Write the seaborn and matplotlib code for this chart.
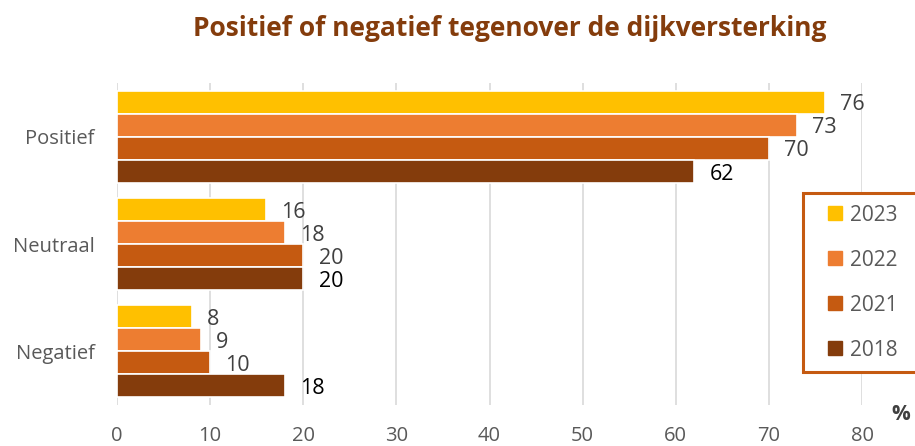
import pandas as pd
import matplotlib.pyplot as plt
from matplotlib.lines import Line2D
import seaborn as sns

# data
categories = ["Positief", "Neutraal", "Negatief"]
years = ["2023", "2022", "2021", "2018"]
values_2023 = [76, 16, 8]
values_2022 = [73, 18, 9]
values_2021 = [70, 20, 10]
values_2018 = [62, 20, 18]
x_ticks = [0, 10, 20, 30, 40, 50, 60, 70, 80]

colors = ["#FFC000", "#ED7D31", "#C55A11", "#843C0C"]
label_colors = ["#404040", "#404040", "#404040", "#000000"]

rows = []
for year, vals in zip(years, [values_2023, values_2022, values_2021, values_2018]):
    for cat, v in zip(categories, vals):
        rows.append({"categorie": cat, "jaar": year, "pct": v})
df = pd.DataFrame(rows)

sns.set_style("white")
plt.rcParams["font.family"] = ["Open Sans", "DejaVu Sans"]

fig = plt.figure(figsize=(9.15, 4.46), dpi=100)
ax = fig.add_axes([117 / 915, 1 - 405 / 446, (862 - 117) / 915, (405 - 83) / 446])

sns.barplot(data=df, y="categorie", x="pct", hue="jaar", order=categories,
            hue_order=years, palette=colors, saturation=1, orient="h",
            width=0.86, edgecolor="white", linewidth=1.2, gap=0, legend=False,
            ax=ax)

for cont, lc in zip(ax.containers, label_colors):
    texts = ax.bar_label(cont, labels=[f"{v:.0f}" for v in cont.datavalues],
                         padding=11, fontsize=15.5, color=lc)
    for t in texts:
        # nudge the value labels a little below the bar centre
        t.xyann = (t.xyann[0], -2)

ax.set_xlim(0, 80)
ax.set_xticks(x_ticks)
ax.set_xticklabels([str(t) for t in x_ticks], fontsize=14.5, color="#595959")
ax.tick_params(axis="x", length=0, pad=15)
ax.tick_params(axis="y", length=0, pad=16, labelsize=14.5, labelcolor="#595959")
ax.set_xlabel("")
ax.set_ylabel("")
ax.grid(axis="x", color="#D9D9D9", linewidth=1.2)
ax.set_axisbelow(True)
for s in ax.spines.values():
    s.set_visible(False)

fig.text(901 / 915, 1 - 414 / 446, "%", ha="center", va="center",
         fontsize=15, fontweight="bold", color="#404040")

fig.suptitle("Positief of negatief tegenover de dijkversterking", x=510 / 915,
             y=1 - 28 / 446, va="center", fontsize=19, fontweight="bold",
             color="#843C0C")

handles = [Line2D([], [], marker="s", linestyle="", markersize=9.5, color=c)
           for c in colors]
leg = ax.legend(handles, years, loc="lower left", mode="expand",
                bbox_to_anchor=(803 / 915, 1 - 372 / 446, 0.15, 182 / 446),
                bbox_transform=fig.transFigure, fontsize=15, frameon=True,
                fancybox=False, framealpha=1, handlelength=2.0,
                labelspacing=1.15, borderpad=0.55, handletextpad=-0.3,
                borderaxespad=0, labelcolor="#595959")
leg.get_frame().set_edgecolor("#C55A11")
leg.get_frame().set_linewidth(2.2)

fig.savefig("out.png", dpi=100)
